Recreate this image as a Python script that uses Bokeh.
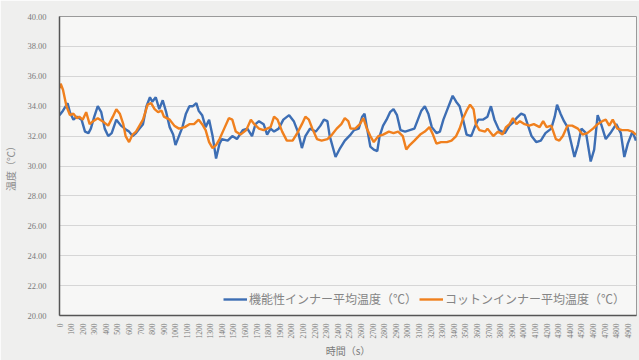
import math
from bokeh.plotting import figure
from bokeh.models import (Range1d, FixedTicker, NumeralTickFormatter, Legend,
                          LegendItem, ColumnDataSource)
from bokeh.embed import file_html
from bokeh.resources import INLINE

# Elapsed time (s) and mean temperature (°C) for the functional inner
func_t = [0, 30, 70, 90, 120, 150, 190, 220, 250, 270, 300, 330, 360, 390, 420, 450,
          490, 530, 580, 600, 630, 660, 690, 720, 750, 780, 800, 830, 860, 890, 920,
          950, 980, 1000, 1030, 1060, 1090, 1120, 1150, 1180, 1200, 1230, 1260, 1290,
          1320, 1350, 1380, 1400, 1450, 1490, 1530, 1580, 1620, 1660, 1690, 1720, 1760,
          1790, 1820, 1850, 1890, 1930, 1980, 2020, 2060, 2090, 2120, 2160, 2210, 2250,
          2280, 2310, 2330, 2380, 2420, 2460, 2510, 2540, 2580, 2610, 2630, 2650, 2680,
          2710, 2740, 2760, 2790, 2820, 2850, 2880, 2910, 2940, 2980, 3020, 3060, 3090,
          3120, 3150, 3180, 3210, 3250, 3280, 3310, 3340, 3370, 3390, 3420, 3450, 3480,
          3510, 3550, 3580, 3610, 3650, 3690, 3720, 3750, 3790, 3840, 3880, 3910, 3940,
          3980, 4010, 4040, 4070, 4110, 4150, 4190, 4240, 4270, 4290, 4320, 4350, 4380,
          4410, 4440, 4470, 4500, 4540, 4580, 4610, 4640, 4670, 4710, 4750, 4800, 4840,
          4870, 4900, 4940, 4970]
func_v = [33.4, 33.7, 34.2, 33.6, 33.1, 33.3, 33.1, 32.3, 32.2, 32.5, 33.3, 34.0, 33.6,
          32.5, 32.0, 32.2, 33.1, 32.7, 32.4, 32.3, 32.0, 32.2, 32.5, 32.8, 34.0, 34.6,
          34.3, 34.6, 33.8, 34.4, 33.6, 32.6, 32.1, 31.4, 32.0, 32.6, 33.5, 34.0, 34.0,
          34.2, 33.7, 33.4, 32.6, 33.1, 32.0, 30.5, 31.5, 31.8, 31.7, 32.0, 31.8, 32.4,
          32.5, 32.0, 32.8, 33.0, 32.8, 32.1, 32.5, 32.3, 32.5, 33.1, 33.4, 33.0, 32.2,
          31.2, 32.0, 32.5, 32.3, 32.7, 33.1, 33.0, 32.0, 30.6, 31.2, 31.7, 32.1, 32.4,
          32.5, 33.3, 33.5, 32.6, 31.3, 31.1, 31.0, 32.0, 32.7, 33.1, 33.6, 33.8, 33.4,
          32.4, 32.3, 32.4, 32.5, 33.1, 33.7, 34.0, 33.5, 32.6, 32.2, 32.3, 33.1, 33.7,
          34.3, 34.7, 34.3, 34.0, 33.1, 32.1, 32.0, 32.6, 33.1, 33.1, 33.3, 34.0, 33.1,
          32.4, 32.2, 32.7, 32.9, 33.2, 33.5, 33.4, 32.7, 32.0, 31.6, 31.7, 32.2, 32.5,
          33.3, 34.1, 33.5, 33.0, 32.6, 31.6, 30.6, 31.4, 32.5, 32.2, 30.3, 31.1, 33.4,
          32.8, 31.8, 32.2, 32.8, 32.2, 30.6, 31.5, 32.3, 31.7]

# Elapsed time (s) and mean temperature (°C) for the cotton inner
cot_t = [0, 10, 30, 60, 90, 120, 150, 170, 200, 230, 260, 290, 330, 370, 420, 460, 490,
         520, 550, 570, 600, 630, 660, 690, 720, 760, 790, 820, 850, 880, 900, 950, 990,
         1030, 1080, 1120, 1160, 1200, 1230, 1260, 1290, 1320, 1350, 1380, 1420, 1460,
         1490, 1520, 1560, 1610, 1650, 1680, 1720, 1760, 1820, 1850, 1880, 1920, 1960,
         2010, 2050, 2090, 2120, 2150, 2180, 2220, 2260, 2310, 2350, 2390, 2430, 2460,
         2490, 2510, 2550, 2590, 2620, 2650, 2680, 2710, 2750, 2790, 2840, 2880, 2920,
         2960, 2990, 3020, 3060, 3110, 3150, 3190, 3220, 3250, 3290, 3340, 3380, 3420,
         3450, 3480, 3510, 3540, 3570, 3590, 3620, 3670, 3690, 3740, 3780, 3820, 3850,
         3880, 3910, 3940, 3970, 4010, 4050, 4090, 4140, 4170, 4200, 4240, 4280, 4310,
         4340, 4380, 4420, 4470, 4510, 4550, 4600, 4640, 4680, 4710, 4740, 4770, 4810,
         4850, 4900, 4940, 4970]
cot_v = [35.2, 35.5, 35.1, 34.0, 33.4, 33.5, 33.2, 33.3, 33.1, 33.6, 32.8, 33.0, 33.2,
         33.0, 32.7, 33.3, 33.8, 33.5, 32.8, 32.0, 31.6, 32.1, 32.3, 32.7, 33.1, 34.1,
         34.2, 33.8, 33.6, 33.7, 33.3, 33.1, 32.7, 32.5, 32.6, 32.8, 32.8, 33.1, 32.8,
         32.4, 31.6, 31.2, 31.4, 31.8, 32.5, 33.2, 33.1, 32.3, 32.1, 32.4, 33.1, 32.8,
         32.5, 32.4, 32.6, 33.3, 33.1, 32.3, 31.7, 31.7, 32.2, 32.8, 33.3, 33.1, 32.5,
         31.8, 31.7, 31.8, 32.1, 32.5, 32.8, 33.2, 33.0, 32.5, 32.5, 32.8, 33.2, 32.5,
         32.0, 31.6, 32.0, 32.1, 32.3, 32.2, 32.3, 32.0, 31.1, 31.4, 31.7, 32.1, 32.3,
         32.6, 32.1, 31.5, 31.6, 31.6, 31.7, 32.0, 32.5, 33.2, 33.7, 34.1, 33.8, 32.8,
         32.4, 32.3, 32.5, 32.0, 32.3, 32.1, 32.6, 32.8, 33.2, 32.8, 33.0, 32.8, 32.7,
         32.8, 32.6, 33.0, 32.6, 32.7, 31.8, 31.7, 32.0, 32.7, 32.7, 32.5, 32.1, 32.2,
         32.5, 32.8, 33.0, 33.1, 32.7, 33.1, 32.5, 32.4, 32.4, 32.3, 32.1]

series_names = ["機能性インナー平均温度（℃）", "コットンインナー平均温度（℃）"]
series_colors = ["#3d6eb4", "#f0801e"]

x_ticks = list(range(0, 5000, 100))
y_ticks = list(range(20, 41, 2))

p = figure(width=639, height=360, output_backend="svg", toolbar_location=None,
           x_range=Range1d(0, 4975), y_range=Range1d(20, 40),
           min_border_left=10, min_border_right=3, min_border_top=16,
           min_border_bottom=10)

p.background_fill_color = "#f7f7f6"
p.border_fill_color = "#efefee"
p.outline_line_color = "#9a9a9a"
p.outline_line_width = 1

p.xgrid.visible = False
p.ygrid.ticker = FixedTicker(ticks=y_ticks)
p.ygrid.grid_line_color = "#d6d6d6"
p.ygrid.grid_line_width = 1

# value axis
p.yaxis.ticker = FixedTicker(ticks=y_ticks)
p.yaxis.formatter = NumeralTickFormatter(format="0.00")
p.yaxis.major_label_text_font = "Liberation Serif"
p.yaxis.major_label_text_font_size = "8.5px"
p.yaxis.major_label_text_color = "#7a7a7a"
p.yaxis.major_label_standoff = 7
p.yaxis.axis_line_color = "#555555"
p.yaxis.axis_line_width = 1.5
p.yaxis.major_tick_line_color = None
p.yaxis.minor_tick_line_color = None
p.yaxis.axis_label = "温度（℃）"
p.yaxis.axis_label_text_font = "Noto Sans CJK JP"
p.yaxis.axis_label_text_font_size = "10px"
p.yaxis.axis_label_text_font_style = "normal"
p.yaxis.axis_label_text_color = "#8a8a8a"
p.yaxis.axis_label_standoff = 6

# time axis
p.xaxis.ticker = FixedTicker(ticks=x_ticks)
p.xaxis.major_label_orientation = math.pi / 2
p.xaxis.major_label_text_font = "Liberation Serif"
p.xaxis.major_label_text_font_size = "7.5px"
p.xaxis.major_label_text_color = "#7a7a7a"
p.xaxis.major_label_standoff = 2
p.xaxis.axis_line_color = "#555555"
p.xaxis.axis_line_width = 1.5
p.xaxis.major_tick_line_color = None
p.xaxis.minor_tick_line_color = None
p.xaxis.axis_label = "時間（s）"
p.xaxis.axis_label_text_font = "Noto Sans CJK JP"
p.xaxis.axis_label_text_font_size = "10px"
p.xaxis.axis_label_text_font_style = "normal"
p.xaxis.axis_label_text_color = "#7a7a7a"
p.xaxis.axis_label_standoff = 1

src_func = ColumnDataSource(dict(t=func_t, v=func_v))
src_cot = ColumnDataSource(dict(t=cot_t, v=cot_v))

r_func = p.line("t", "v", source=src_func, line_color=series_colors[0], line_width=2.4)
r_cot = p.line("t", "v", source=src_cot, line_color=series_colors[1], line_width=2.4)

legend = Legend(items=[LegendItem(label=series_names[0], renderers=[r_func]),
                       LegendItem(label=series_names[1], renderers=[r_cot])],
                orientation="horizontal", location=(164, 8),
                label_text_font="Noto Sans CJK JP", label_text_font_size="12px",
                label_text_color="#858585", glyph_width=24, glyph_height=14,
                label_height=14, label_standoff=2, spacing=2, padding=2, margin=0,
                border_line_color=None, background_fill_color="#f7f7f6",
                background_fill_alpha=1.0)
p.add_layout(legend)

open("out.html", "w").write(file_html(p, INLINE))
